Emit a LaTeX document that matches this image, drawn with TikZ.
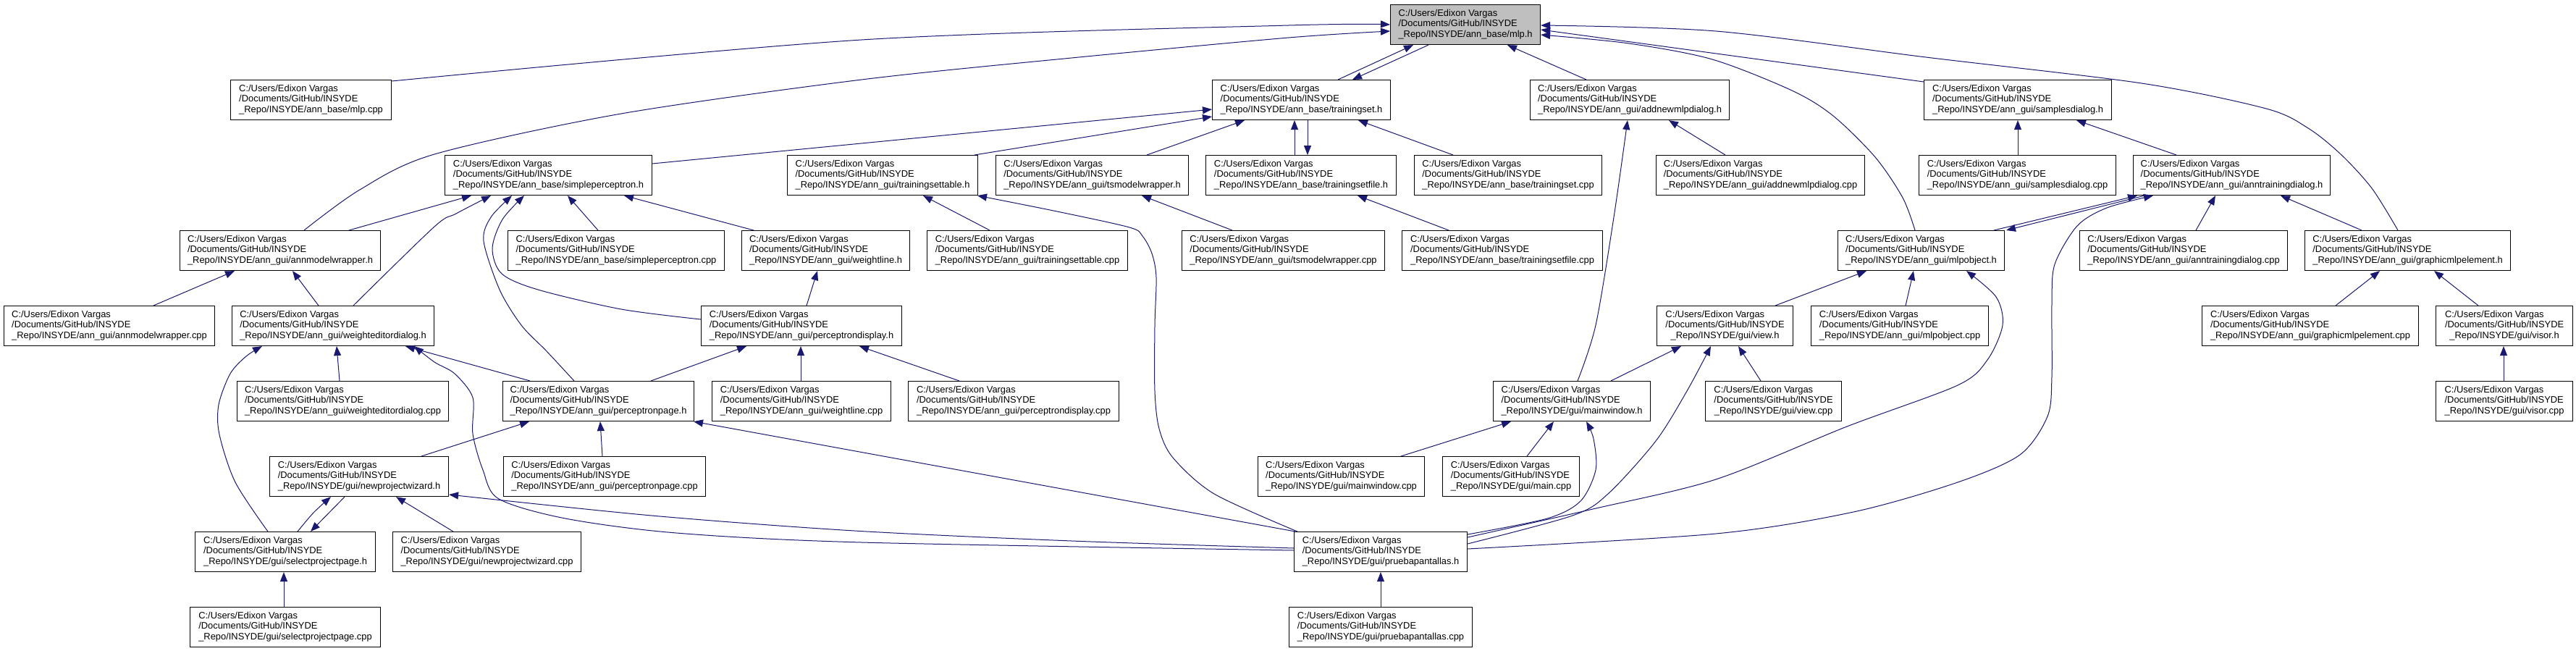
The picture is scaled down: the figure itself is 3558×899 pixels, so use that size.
\documentclass[tikz,border=0pt]{standalone}
\usepackage{fontspec}
\setmainfont{Liberation Sans}
\usetikzlibrary{arrows.meta}
\definecolor{edgecol}{RGB}{25,25,112}
\definecolor{hl}{RGB}{191,191,191}
\newcommand{\lbl}[1]{\begin{tabular}{@{}l@{}}C:/Users/Edixon Vargas\\/Documents/GitHub/INSYDE\\\multicolumn{1}{@{}c@{}}{\_Repo/INSYDE/#1}\end{tabular}}
\newcommand{\mkf}[6][]{\node[fbox,#1,minimum width=#5pt] (#2) at (#3,#4) {\lbl{#6}};}
\tikzset{
 fbox/.style={draw=black, line width=1.1pt, fill=white, anchor=north west, inner sep=0pt, minimum height=55pt, font=\fontsize{12.9}{14.7}\selectfont},
 dep/.style={draw=edgecol, line width=1pt, -{Triangle[length=13pt,width=10pt]}}
}
\begin{document}
\begin{tikzpicture}[x=1pt,y=-1pt]
\useasboundingbox[fill=white] (0,0) rectangle (3558,899);
% nodes
\mkf[fill=hl]{mlph}{1920}{6}{207}{ann\_base/mlp.h}
\mkf{mlpcpp}{318}{110}{222}{ann\_base/mlp.cpp}
\mkf{tseth}{1674}{110}{246}{ann\_base/trainingset.h}
\mkf{addh}{2113}{110}{275}{ann\_gui/addnewmlpdialog.h}
\mkf{samph}{2657}{110}{259}{ann\_gui/samplesdialog.h}
\mkf{sph}{614}{214}{286}{ann\_base/simpleperceptron.h}
\mkf{tstabh}{1087}{214}{263}{ann\_gui/trainingsettable.h}
\mkf{tsmwh}{1375}{214}{266}{ann\_gui/tsmodelwrapper.h}
\mkf{tsfh}{1665}{214}{263}{ann\_base/trainingsetfile.h}
\mkf{tsetcpp}{1953}{214}{259}{ann\_base/trainingset.cpp}
\mkf{addcpp}{2287}{214}{288}{ann\_gui/addnewmlpdialog.cpp}
\mkf{sampcpp}{2650}{214}{272}{ann\_gui/samplesdialog.cpp}
\mkf{anntdh}{2946}{214}{272}{ann\_gui/anntrainingdialog.h}
\mkf{amwh}{248}{318}{277}{ann\_gui/annmodelwrapper.h}
\mkf{spcpp}{701}{318}{299}{ann\_base/simpleperceptron.cpp}
\mkf{wlh}{1024}{318}{232}{ann\_gui/weightline.h}
\mkf{tstabcpp}{1280}{318}{277}{ann\_gui/trainingsettable.cpp}
\mkf{tsmwcpp}{1632}{318}{280}{ann\_gui/tsmodelwrapper.cpp}
\mkf{tsfcpp}{1936}{318}{277}{ann\_base/trainingsetfile.cpp}
\mkf{mlpoh}{2538}{318}{230}{ann\_gui/mlpobject.h}
\mkf{anntdcpp}{2872}{318}{287}{ann\_gui/anntrainingdialog.cpp}
\mkf{gmeh}{3183}{318}{284}{ann\_gui/graphicmlpelement.h}
\mkf{amwcpp}{5}{422}{291}{ann\_gui/annmodelwrapper.cpp}
\mkf{wedh}{320}{422}{279}{ann\_gui/weighteditordialog.h}
\mkf{pdh}{968}{422}{277}{ann\_gui/perceptrondisplay.h}
\mkf{viewh}{2288}{422}{188}{gui/view.h}
\mkf{mlpocpp}{2501}{422}{245}{ann\_gui/mlpobject.cpp}
\mkf{gmecpp}{3041}{422}{299}{ann\_gui/graphicmlpelement.cpp}
\mkf{visorh}{3364}{422}{189}{gui/visor.h}
\mkf{wedcpp}{327}{526}{292}{ann\_gui/weighteditordialog.cpp}
\mkf{pph}{694}{526}{264}{ann\_gui/perceptronpage.h}
\mkf{wlcpp}{983}{526}{247}{ann\_gui/weightline.cpp}
\mkf{pdcpp}{1254}{526}{291}{ann\_gui/perceptrondisplay.cpp}
\mkf{mwh}{2062}{526}{217}{gui/mainwindow.h}
\mkf{viewcpp}{2355}{526}{188}{gui/view.cpp}
\mkf{visorcpp}{3364}{526}{189}{gui/visor.cpp}
\mkf{npwh}{372}{630}{247}{gui/newprojectwizard.h}
\mkf{ppcpp}{695}{630}{279}{ann\_gui/perceptronpage.cpp}
\mkf{mwcpp}{1737}{630}{230}{gui/mainwindow.cpp}
\mkf{maincpp}{1992}{630}{189}{gui/main.cpp}
\mkf{spph}{269}{734}{249}{gui/selectprojectpage.h}
\mkf{npwcpp}{542}{734}{260}{gui/newprojectwizard.cpp}
\mkf{pruebah}{1787}{734}{239}{gui/pruebapantallas.h}
\mkf{sppcpp}{262}{838}{263}{gui/selectprojectpage.cpp}
\mkf{pruebacpp}{1780}{838}{253}{gui/pruebapantallas.cpp}
% edges
\draw[dep] plot[smooth] coordinates {(mlpcpp.east |- 0,112) (1190,55) (1780,35) (mlph.west |- 0,34)};
\draw[dep] plot[smooth] coordinates {(amwh.north -| 420,0) (497,262) (600,213) (858,157) (1190,110) (1480,80) (1780,52) (mlph.west |- 0,43)};
\draw[dep] (amwh.north -| 482,0) -- (sph.south -| 651,0);
\draw[dep] (wedh.north -| 440,0) -- (amwh.south -| 404,0);
\draw[dep] (amwcpp.north -| 212,0) -- (amwh.south -| 324,0);
\draw[dep] plot[smooth] coordinates {(wedh.north -| 488,0) (600,313) (630,295) (sph.south -| 678,0)};
\draw[dep] plot[smooth] coordinates {(pph.north -| 793,0) (755,485) (720,449) (690,400) (668,333) (678,300) (sph.south -| 707,0)};
\draw[dep] plot[smooth] coordinates {(pdh.west |- 0,441) (858,427) (743,400) (693,378) (680,343) (694,303) (sph.south -| 724,0)};
\draw[dep] (spcpp.north -| 826,0) -- (sph.south -| 784,0);
\draw[dep] (wlh.north -| 1041,0) -- (sph.south -| 862,0);
\draw[dep] (sph.east |- 0,226) -- (tseth.west |- 0,151);
\draw[dep] (tstabh.north -| 1346,0) -- (tseth.west |- 0,161);
\draw[dep] (tsmwh.north -| 1584,0) -- (tseth.south -| 1719,0);
\draw[dep] (tsfh.north -| 1788,0) -- (tseth.south -| 1788,0);
\draw[dep] (tseth.south -| 1806,0) -- (tsfh.north -| 1806,0);
\draw[dep] (tsetcpp.north -| 2007,0) -- (tseth.south -| 1876,0);
\draw[dep] (tseth.north -| 1848,0) -- (mlph.south -| 1952,0);
\draw[dep] (mlph.south -| 1973,0) -- (tseth.north -| 1868,0);
\draw[dep] (addh.north -| 2191,0) -- (mlph.south -| 2082,0);
\draw[dep] plot[smooth] coordinates {(gmeh.north -| 3312,0) (3276,260) (3233,213) (3188,177) (3130,150) (2958,115) (2660,79) (2370,43) (mlph.east |- 0,35)};
\draw[dep] plot[smooth] coordinates {(mlpoh.north -| 2645,0) (2628,273) (2590,217) (2532,160) (2475,125) (2365,82) (2250,60) (mlph.east |- 0,48)};
\draw[dep] (samph.west |- 0,113) -- (mlph.east |- 0,41);
\draw[dep] (addcpp.north -| 2383,0) -- (addh.south -| 2305,0);
\draw[dep] plot[smooth] coordinates {(mwh.north -| 2179,0) (2204,449) (2229,300) (addh.south -| 2248,0)};
\draw[dep] (sampcpp.north -| 2787,0) -- (samph.south -| 2787,0);
\draw[dep] (anntdh.north -| 3006,0) -- (samph.south -| 2868,0);
\draw[dep] (anntdcpp.north -| 3033,0) -- (anntdh.south -| 3060,0);
\draw[dep] (gmeh.north -| 3262,0) -- (anntdh.south -| 3150,0);
\draw[dep] (mlpoh.north -| 2754,0) -- (anntdh.south -| 2952,0);
\draw[dep] (anntdh.south -| 2962,0) -- (mlpoh.north -| 2771,0);
\draw[dep] plot[smooth] coordinates {(pruebah.east |- 0,758) (2370,737) (2560,707) (2704,666) (2790,628) (2828,575) (2834,520) (2834,420) (2838,365) (2869,312) (2910,287) (anntdh.south -| 2974,0)};
\draw[dep] plot[smooth] coordinates {(pruebah.east |- 0,742) (2200,703) (2370,662) (2551,589) (2704,532) (2745,497) (2766,449) (2757,410) (mlpoh.south -| 2716,0)};
\draw[dep] plot[smooth] coordinates {(pruebah.east |- 0,738) (2137,716) (2183,692) (2204,649) (2201,606) (mwh.south -| 2191,0)};
\draw[dep] plot[smooth] coordinates {(pruebah.east |- 0,751) (2172,712) (2221,682) (2287,609) (2330,540) (viewh.south -| 2363,0)};
\draw[dep] (viewcpp.north -| 2432,0) -- (viewh.south -| 2401,0);
\draw[dep] (mwh.north -| 2225,0) -- (viewh.south -| 2322,0);
\draw[dep] (viewh.north -| 2452,0) -- (mlpoh.south -| 2578,0);
\draw[dep] (mlpocpp.north -| 2632,0) -- (mlpoh.south -| 2643,0);
\draw[dep] (mwcpp.north -| 1935,0) -- (mwh.south -| 2087,0);
\draw[dep] (maincpp.north -| 2109,0) -- (mwh.south -| 2146,0);
\draw[dep] (pruebacpp.north -| 1907,0) -- (pruebah.south -| 1907,0);
\draw[dep] (gmecpp.north -| 3226,0) -- (gmeh.south -| 3287,0);
\draw[dep] (visorh.north -| 3423,0) -- (gmeh.south -| 3362,0);
\draw[dep] (visorcpp.north -| 3458,0) -- (visorh.south -| 3458,0);
\draw[dep] (tsmwcpp.north -| 1702,0) -- (tsmwh.south -| 1577,0);
\draw[dep] (tsfcpp.north -| 2001,0) -- (tsfh.south -| 1875,0);
\draw[dep] (tstabcpp.north -| 1367,0) -- (tstabh.south -| 1275,0);
\draw[dep] plot[smooth] coordinates {(pruebah.north -| 1792,0) (1677,682) (1620,632) (1601,592) (1595,540) (1595,450) (1597,383) (1591,350) (1578,326) (1560,314) (1460,292) (tstabh.south -| 1350,0)};
\draw[dep] (pruebah.north -| 1789,0) -- (pph.south -| 958,0);
\draw[dep] plot[smooth] coordinates {(pruebah.west |- 0,760) (1190,749) (934,736) (781,716) (689,689) (667,649) (653,599) (653,549) (628,516) (600,500) (wedh.south -| 572,0)};
\draw[dep] (pph.north -| 732,0) -- (wedh.south -| 560,0);
\draw[dep] plot[smooth] coordinates {(spph.north -| 370,0) (325,666) (303,600) (302,559) (318,516) (340,492) (wedh.south -| 362,0)};
\draw[dep] (wedcpp.north -| 469,0) -- (wedh.south -| 465,0);
\draw[dep] (npwh.north -| 582,0) -- (pph.south -| 731,0);
\draw[dep] (ppcpp.north -| 832,0) -- (pph.south -| 829,0);
\draw[dep] (pph.north -| 899,0) -- (pdh.south -| 1031,0);
\draw[dep] (wlcpp.north -| 1106,0) -- (pdh.south -| 1106,0);
\draw[dep] (pdcpp.north -| 1325,0) -- (pdh.south -| 1187,0);
\draw[dep] (pdh.north -| 1114,0) -- (wlh.south -| 1129,0);
\draw[dep] plot[smooth] coordinates {(pruebah.west |- 0,757) (1480,747) (1180,733) (900,712) (npwh.east |- 0,683)};
\draw[dep] plot[smooth] coordinates {(spph.north -| 411,0) (433,708) (npwh.south -| 457,0)};
\draw[dep] (npwh.south -| 476,0) -- (spph.north -| 429,0);
\draw[dep] (npwcpp.north -| 626,0) -- (npwh.south -| 547,0);
\draw[dep] (sppcpp.north -| 392,0) -- (spph.south -| 392,0);
\end{tikzpicture}
\end{document}
